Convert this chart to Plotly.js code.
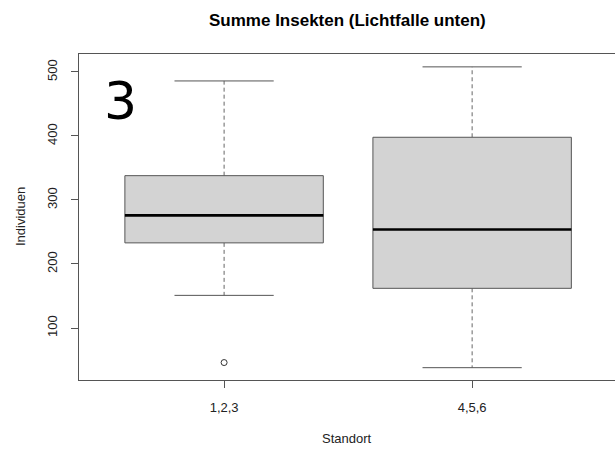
<!DOCTYPE html>
<html>
<head>
<meta charset="utf-8">
<script src="https://cdn.plot.ly/plotly-3.0.1.min.js"></script>
<style>html,body{margin:0;padding:0;background:#fff;}#chart{width:615px;height:450px;}</style>
</head>
<body>
<div id="chart"></div>
<script>
// Data
const categories = ["1,2,3", "4,5,6"];
const positions = [1, 2];
const lowerWhisker = [151, 38];
const q1 = [233, 162];
const median = [276, 254];
const q3 = [338, 398];
const upperWhisker = [486, 508];
const outlierGroup = [1];
const outlierValues = [46];

const boxHalf = 0.4, capHalf = 0.2;
const boxX = [], boxY = [], medX = [], medY = [], whX = [], whY = [], capX = [], capY = [];
positions.forEach((c, i) => {
  boxX.push(c - boxHalf, c + boxHalf, c + boxHalf, c - boxHalf, c - boxHalf, null);
  boxY.push(q1[i], q1[i], q3[i], q3[i], q1[i], null);
  medX.push(c - boxHalf, c + boxHalf, null);
  medY.push(median[i], median[i], null);
  whX.push(c, c, null, c, c, null);
  whY.push(q3[i], upperWhisker[i], null, q1[i], lowerWhisker[i], null);
  capX.push(c - capHalf, c + capHalf, null, c - capHalf, c + capHalf, null);
  capY.push(upperWhisker[i], upperWhisker[i], null, lowerWhisker[i], lowerWhisker[i], null);
});

const traces = [
  {x: whX, y: whY, mode: 'lines', line: {color: '#666', width: 1, dash: '4px,3px'}, hoverinfo: 'skip'},
  {x: capX, y: capY, mode: 'lines', line: {color: '#555', width: 1}, hoverinfo: 'skip'},
  {x: boxX, y: boxY, mode: 'lines', fill: 'toself', fillcolor: '#d3d3d3', line: {color: '#555', width: 1}, hoverinfo: 'skip'},
  {x: medX, y: medY, mode: 'lines', line: {color: '#000', width: 2.6}, hoverinfo: 'skip'},
  {x: outlierGroup, y: outlierValues, mode: 'markers', marker: {symbol: 'circle-open', size: 6, color: '#333', line: {width: 1}}, hoverinfo: 'skip'}
];

const font = {family: 'Liberation Sans, Arial, sans-serif', size: 13, color: '#222'};

const layout = {
  width: 615, height: 450,
  margin: {l: 79, r: 0, t: 54, b: 70, pad: 0},
  showlegend: false,
  paper_bgcolor: '#fff', plot_bgcolor: '#fff',
  font: font,
  xaxis: {
    range: [0.415, 2.576], tickvals: positions, ticktext: categories,
    showgrid: false, zeroline: false, showline: true, mirror: true,
    linecolor: '#555', linewidth: 1, ticks: 'outside', ticklen: 7, tickcolor: '#555',
    ticklabelstandoff: 8, tickfont: font, fixedrange: true
  },
  yaxis: {
    range: [18.75, 528.1], tickvals: [100, 200, 300, 400, 500],
    showgrid: false, zeroline: false, showline: true, mirror: false,
    linecolor: '#555', linewidth: 1, ticks: 'outside', ticklen: 7, tickcolor: '#555',
    tickangle: -90, ticklabelstandoff: 9, tickfont: font, fixedrange: true
  },
  annotations: [
    {text: '<b>Summe Insekten (Lichtfalle unten)</b>', xref: 'paper', yref: 'paper',
     x: 0.5, y: 1, yshift: 34, xanchor: 'center', yanchor: 'middle', showarrow: false,
     font: {family: 'Liberation Sans, Arial, sans-serif', size: 17, color: '#000'}},
    {text: 'Standort', xref: 'paper', yref: 'paper', x: 0.5, y: 0, yshift: -58,
     xanchor: 'center', yanchor: 'middle', showarrow: false, font: font},
    {text: 'Individuen', xref: 'paper', yref: 'paper', x: 0, xshift: -59, y: 0.5,
     xanchor: 'center', yanchor: 'middle', textangle: -90, showarrow: false, font: font},
    {text: '3', xref: 'paper', yref: 'paper', x: 0.043, y: 0.856,
     xanchor: 'left', yanchor: 'middle', showarrow: false,
     font: {family: 'DejaVu Sans', size: 52, color: '#000'}}
  ]
};

Plotly.newPlot('chart', traces, layout, {staticPlot: true, displayModeBar: false});
</script>
</body>
</html>
